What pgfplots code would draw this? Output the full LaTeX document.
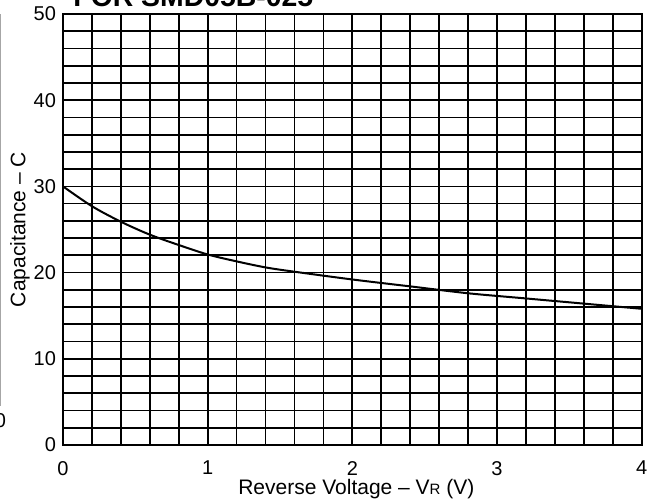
\documentclass[border=0pt]{standalone}
\usepackage{fontspec}
\setmainfont{Liberation Sans}
\usepackage{pgfplots}
\pgfplotsset{compat=1.18}
\begin{document}
\begin{tikzpicture}
\begin{axis}[
  name=main,
  scale only axis,
  width=289.35pt, height=215.5pt,
  xmin=0, xmax=4, ymin=0, ymax=50,
  xtick={0,1,2,3,4},
  ytick={0,10,20,30,40,50},
  minor x tick num=4,
  minor y tick num=4,
  grid=both,
  major grid style={black, line width=0.85pt},
  minor grid style={black, line width=0.85pt},
  axis line style={black, line width=1.1pt},
  major tick length=0pt, minor tick length=0pt,
  /pgf/number format/assume math mode=true,
  tick label style={font=\fontsize{10}{12}\selectfont},
  xticklabel style={yshift=-4.5pt},
  xlabel={Reverse Voltage -- V{\fontsize{7.5}{9}\selectfont R} (V)},
  ylabel={Capacitance -- C},
  label style={font=\fontsize{10.5}{12}\selectfont},
  x label style={at={(axis description cs:0.5,0)}, anchor=base, yshift=-25pt, xshift=2pt},
  y label style={at={(axis description cs:-0.0743,0.5)}, anchor=center},
]
\addplot[black, line width=1pt, smooth] coordinates {
(0,30) (0.2,27.7) (0.4,25.9) (0.6,24.4) (0.8,23.2) (1.0,22.1) (1.2,21.3)
(1.4,20.6) (1.6,20.1) (2.0,19.2) (2.4,18.4) (2.8,17.6) (3.2,17.0) (3.6,16.4) (4.0,15.8)
};
\end{axis}
% title (cut at top edge, as in reference)
\node[anchor=base west, inner sep=0pt, font=\fontsize{14.2}{16}\selectfont\bfseries]
  at ([shift={(5pt,219pt)}]main.south west) {FOR SMD05B-025};
% remnant of the neighbouring chart at the left edge
\draw[gray!70, line width=0.5pt] ([shift={(-31pt,19.5pt)}]main.south west) -- ([shift={(-31pt,215.5pt)}]main.south west);
\node[inner sep=0pt, font=\fontsize{10}{12}\selectfont] at ([shift={(-31.25pt,12.25pt)}]main.south west) {0};
\pgfresetboundingbox
\useasboundingbox ([shift={(-31.5pt,-28pt)}]main.south west) rectangle ([shift={(293.5pt,222.5pt)}]main.south west);
\end{tikzpicture}
\end{document}
